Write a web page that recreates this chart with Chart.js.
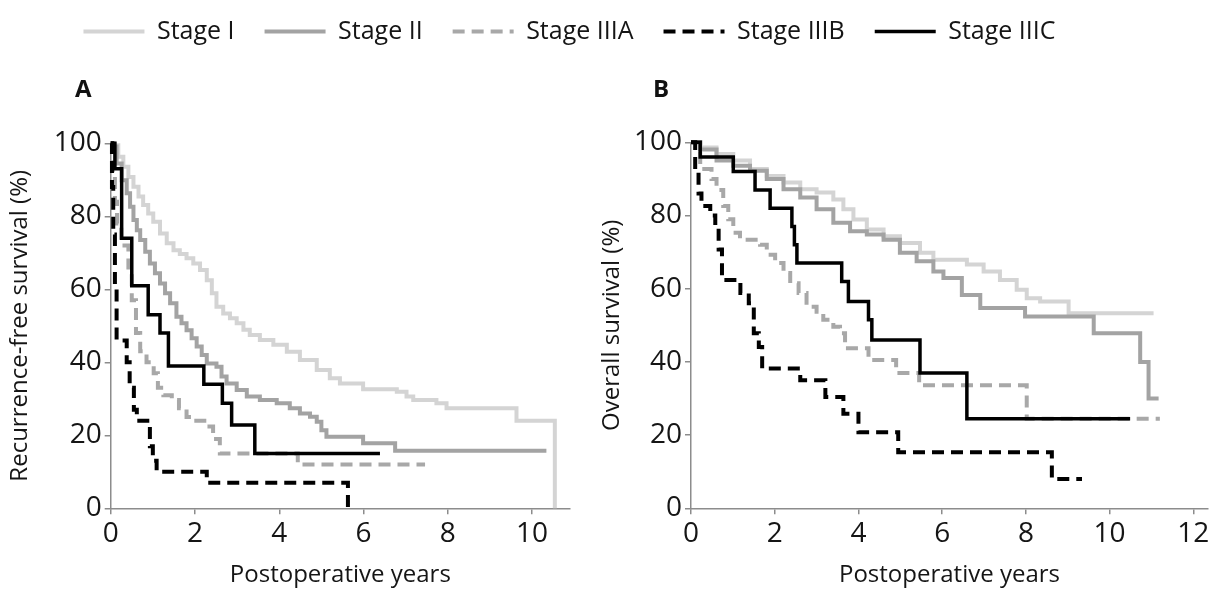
<!DOCTYPE html>
<html>
<head>
<meta charset="utf-8">
<script src="https://cdn.jsdelivr.net/npm/chart.js@4.4.1/dist/chart.umd.min.js"></script>
<style>
  html, body { margin: 0; padding: 0; background: #fff; }
  body { width: 1215px; height: 594px; position: relative; overflow: hidden; }
  .box { position: absolute; }
  .tag { position: absolute; font: bold 24px/24px 'Open Sans', sans-serif; color: #111; }
</style>
</head>
<body>
<div class="box" style="left:0;top:-12px;width:1139px;height:130px"><canvas id="legend"></canvas></div>
<div class="tag" style="left:75px;top:76px">A</div>
<div class="tag" style="left:653px;top:76px">B</div>
<div class="box" style="left:0;top:40px;width:590px;height:554px"><canvas id="chartA"></canvas></div>
<div class="box" style="left:590px;top:40px;width:625px;height:554px"><canvas id="chartB"></canvas></div>
<script>
'use strict';

const stageLabels = ['Stage I', 'Stage II', 'Stage IIIA', 'Stage IIIB', 'Stage IIIC'];

// A: recurrence-free survival (years at each step, % after the step)
const rfsStage1Years = [0, 0.06, 0.18, 0.30, 0.42, 0.54, 0.66, 0.77, 0.89, 1.01, 1.17, 1.33, 1.49, 1.64, 1.80, 1.96, 2.12, 2.28, 2.40, 2.51, 2.67, 2.83, 2.99, 3.15, 3.30, 3.54, 3.86, 4.18, 4.49, 4.89, 5.20, 5.44, 5.99, 6.79, 7.02, 7.18, 7.73, 7.97, 9.63, 10.54];
const rfsStage1Pct   = [100, 99.5, 96.3, 93.6, 90.8, 88.1, 85.4, 83.1, 80.8, 78.5, 75.3, 72.6, 70.7, 69.7, 68.5, 67.1, 65.3, 62.5, 58.9, 55.2, 53.4, 52.1, 50.7, 48.9, 47.5, 46.1, 44.8, 42.9, 40.6, 37.9, 35.6, 34.2, 32.6, 31.9, 30.6, 29.7, 28.8, 27.4, 24, 0];
const rfsStage2Years = [0, 0.06, 0.14, 0.26, 0.38, 0.46, 0.54, 0.62, 0.70, 0.82, 0.93, 1.05, 1.17, 1.29, 1.41, 1.56, 1.68, 1.80, 1.92, 2.04, 2.16, 2.28, 2.51, 2.63, 2.75, 2.99, 3.23, 3.54, 3.94, 4.25, 4.49, 4.73, 4.89, 5.0, 5.12, 5.99, 6.75, 10.34];
const rfsStage2Pct   = [100, 99.1, 94.5, 89.9, 86.3, 82.6, 79.0, 76.2, 73.5, 70.3, 67.1, 64.4, 61.6, 58.9, 56.2, 52.5, 50.7, 48.8, 46.6, 44.3, 42.0, 39.7, 38.8, 36.1, 34.2, 32.4, 30.6, 29.7, 28.8, 27.4, 26.0, 25.1, 23.7, 21.4, 19.6, 17.8, 15.8, 15.8];
const rfsStage3aYears = [0, 0.05, 0.1, 0.15, 0.25, 0.42, 0.5, 0.6, 0.7, 0.85, 1.02, 1.12, 1.25, 1.45, 1.62, 1.8, 1.96, 2.28, 2.43, 2.59, 4.44, 7.46];
const rfsStage3aPct   = [100, 92, 84, 78, 72, 66, 57, 48, 43, 40, 37, 33, 31, 29.7, 27.4, 25, 24, 22.4, 19, 15, 12, 12];
const rfsStage3bYears = [0, 0.03, 0.06, 0.1, 0.14, 0.38, 0.45, 0.55, 0.62, 0.93, 1.0, 1.09, 2.28, 5.63];
const rfsStage3bPct   = [100, 88, 75, 60, 46, 40, 33, 27, 24, 17, 13, 10, 7, 0];
const rfsStage3cYears = [0, 0.1, 0.26, 0.5, 0.89, 1.17, 1.37, 2.21, 2.65, 2.87, 3.42, 6.39];
const rfsStage3cPct   = [100, 93, 74, 61, 53, 48, 39, 34, 28.8, 22.8, 15, 15];

// B: overall survival
const osStage1Years = [0, 0.22, 0.61, 1.01, 1.41, 1.81, 2.21, 2.61, 3.0, 3.4, 3.64, 3.88, 4.2, 4.6, 4.99, 5.47, 5.79, 6.59, 6.99, 7.38, 7.78, 8.02, 8.34, 9.02, 11.05];
const osStage1Pct   = [100, 98.6, 96.8, 95, 92.7, 90.8, 89, 87.2, 86.3, 84.4, 81.7, 78.9, 76.2, 74.3, 72.5, 69.8, 67.9, 66.6, 64.7, 62.4, 59.7, 57.4, 56.5, 53.3, 53.3];
const osStage2Years = [0, 0.22, 0.61, 1.01, 1.41, 1.81, 2.21, 2.61, 3.0, 3.4, 3.8, 4.2, 4.6, 4.99, 5.39, 5.79, 6.03, 6.47, 6.91, 7.98, 9.62, 10.73, 10.93, 11.17];
const osStage2Pct   = [100, 98, 95, 93.6, 92.2, 90, 87.2, 84.9, 81.7, 78, 75.7, 74.8, 73.4, 69.8, 67.5, 64.7, 62.9, 58.3, 54.7, 52.4, 47.8, 40, 30, 30];
const osStage3aYears = [0, 0.22, 0.49, 0.61, 0.77, 0.89, 1.01, 1.17, 1.65, 1.81, 2.01, 2.21, 2.37, 2.57, 2.76, 3.0, 3.16, 3.4, 3.56, 3.68, 4.24, 4.9, 5.45, 8.02, 11.2];
const osStage3aPct   = [100, 92.7, 90, 87, 82.6, 79, 75.3, 73.4, 72, 69.3, 67, 64.3, 61.5, 58.8, 55.1, 53.7, 51.5, 49.6, 47.8, 43.7, 40.5, 37, 33.6, 24.5, 24.5];
const osStage3bYears = [0, 0.1, 0.18, 0.25, 0.46, 0.58, 0.66, 0.74, 1.18, 1.38, 1.5, 1.62, 1.7, 2.61, 3.21, 3.64, 4.0, 4.95, 8.62, 9.34];
const osStage3bPct   = [100, 92, 86, 82.6, 80, 77, 70.7, 62.4, 58.8, 56, 47.8, 44.1, 38.2, 35, 30.4, 25.8, 20.8, 15.3, 8, 8];
const osStage3cYears = [0, 0.22, 1.01, 1.53, 1.89, 2.41, 2.47, 2.53, 3.6, 3.76, 4.24, 4.32, 5.47, 6.59, 10.49];
const osStage3cPct   = [100, 96, 92, 87, 82, 77, 72, 67, 62, 56.5, 51.5, 46, 37, 24.5, 24.5];

const xTicksA = { max: 10.9, step: 2 };
const xTicksB = { max: 12.35, step: 2 };

const FONT = "'Open Sans', sans-serif";
const INK = '#151515';
const AXIS = '#8c8c8c';

const stageStyles = [
  { color: '#d4d4d4', width: 4, dash: [] },
  { color: '#a3a3a3', width: 4, dash: [] },
  { color: '#a8a8a8', width: 4, dash: [12, 7] },
  { color: '#000000', width: 4, dash: [12, 7] },
  { color: '#000000', width: 3.5, dash: [] },
];

function makeDatasets(yearsList, pctList) {
  return stageLabels.map((label, i) => ({
    label,
    data: yearsList[i].map((x, k) => ({ x, y: pctList[i][k] })),
    borderColor: stageStyles[i].color,
    backgroundColor: stageStyles[i].color,
    borderWidth: stageStyles[i].width,
    borderDash: stageStyles[i].dash,
    stepped: 'before',
    pointRadius: 0,
    fill: false,
    clip: false,
    order: stageLabels.length - i,
  }));
}

function makeScales(xt, yTitle, yWidth) {
  return {
    x: {
      type: 'linear', min: 0, max: xt.max,
      afterFit: s => { s.height = 85.7; },
      ticks: { stepSize: xt.step, includeBounds: false, color: INK, font: { family: FONT, size: 28 }, padding: 3, maxRotation: 0 },
      grid: { drawOnChartArea: false, drawTicks: true, tickLength: 6, color: AXIS, lineWidth: 1.5 },
      border: { display: true, color: AXIS, width: 1.5 },
      title: { display: true, text: 'Postoperative years', color: INK, font: { family: FONT, size: 24 }, padding: { top: 4, bottom: 4 } },
    },
    y: {
      min: 0, max: 100,
      afterFit: s => { s.width = yWidth; },
      ticks: { stepSize: 20, color: INK, font: { family: FONT, size: 28 }, padding: 3 },
      grid: { drawOnChartArea: false, drawTicks: true, tickLength: 6, color: AXIS, lineWidth: 1.5 },
      border: { display: true, color: AXIS, width: 1.5 },
      title: { display: true, text: yTitle, color: INK, font: { family: FONT, size: 24 }, padding: { top: 4, bottom: 4 } },
    },
  };
}

function panel(id, datasets, scales, padding) {
  return new Chart(document.getElementById(id), {
    type: 'line',
    data: { datasets },
    options: {
      responsive: true,
      maintainAspectRatio: false,
      animation: false,
      events: [],
      layout: { padding },
      plugins: { legend: { display: false }, tooltip: { enabled: false } },
      scales,
    },
  });
}

panel('chartA',
  makeDatasets(
    [rfsStage1Years, rfsStage2Years, rfsStage3aYears, rfsStage3bYears, rfsStage3cYears],
    [rfsStage1Pct, rfsStage2Pct, rfsStage3aPct, rfsStage3bPct, rfsStage3cPct]),
  makeScales(xTicksA, 'Recurrence-free survival (%)', 108.7),
  { top: 103.3, left: 2, right: 20, bottom: 0 });

panel('chartB',
  makeDatasets(
    [osStage1Years, osStage2Years, osStage3aYears, osStage3bYears, osStage3cYears],
    [osStage1Pct, osStage2Pct, osStage3aPct, osStage3bPct, osStage3cPct]),
  makeScales(xTicksB, 'Overall survival (%)', 97.4),
  { top: 102.3, left: 3.6, right: 7, bottom: 0 });

// shared legend across both panels
new Chart(document.getElementById('legend'), {
  type: 'line',
  data: {
    datasets: stageLabels.map((label, i) => ({
      label, data: [],
      borderColor: stageStyles[i].color, borderWidth: stageStyles[i].width, borderDash: stageStyles[i].dash,
    })),
  },
  options: {
    responsive: true,
    maintainAspectRatio: false,
    animation: false,
    events: [],
    layout: { padding: { top: 1 } },
    scales: { x: { display: false }, y: { display: false } },
    plugins: {
      tooltip: { enabled: false },
      legend: {
        display: true,
        position: 'top',
        labels: {
          usePointStyle: true,
          pointStyle: 'line',
          pointStyleWidth: 61,
          padding: 30,
          color: INK,
          font: { family: FONT, size: 25 },
          generateLabels: chart => chart.data.datasets.map((ds, i) => ({
            text: ds.label,
            fillStyle: ds.borderColor,
            strokeStyle: ds.borderColor,
            lineWidth: ds.borderWidth,
            lineDash: ds.borderDash,
            pointStyle: 'line',
            fontColor: INK,
            hidden: false,
            datasetIndex: i,
          })),
        },
      },
    },
  },
});
</script>
</body>
</html>
